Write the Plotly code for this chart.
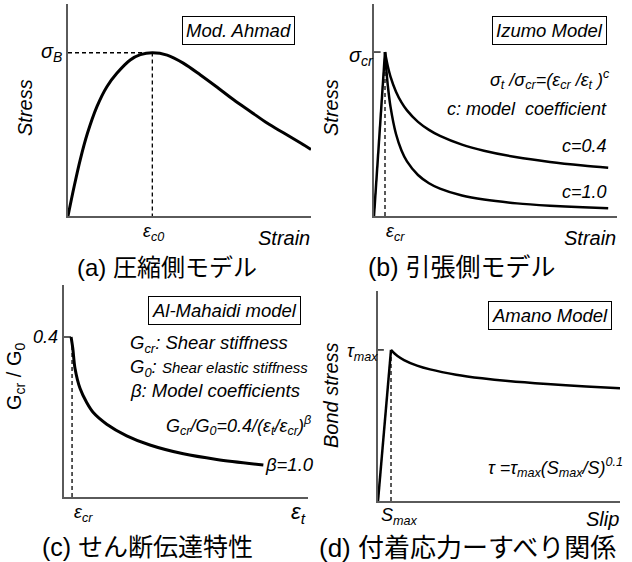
import plotly.graph_objects as go

W, H = 632, 562

# ---------------- data ----------------
# (a) Mod. Ahmad compression model (arbitrary units 0-100)
A_STRAIN = [0, 2.5, 5.0, 8.0, 11.9, 16.0, 20.1, 25.6, 29.8, 34.7, 40.8, 47.6, 54.5,
            61.4, 68.3, 75.2, 82.1, 89.0, 95.9, 100]
A_STRESS = [0, 13.8, 26.4, 39.0, 51.6, 61.0, 67.3, 73.6, 76.1, 77.0, 75.9, 72.0, 66.5,
            60.7, 54.7, 49.2, 43.7, 39.0, 34.3, 31.4]
A_PEAK = (34.7, 77.0)

# (b) Izumo tension model (strain / eps_cr, stress / sigma_cr)
B_RISE_X = [0, 1]
B_RISE_Y = [0, 1]
B_STRAIN = [1, 1.1, 1.25, 1.5, 2, 2.5, 3, 4, 5, 6, 8, 10, 13, 16, 19, 21.3]
B_C04 = [1, 0.963, 0.915, 0.850, 0.758, 0.693, 0.644, 0.574, 0.525, 0.488, 0.435,
         0.398, 0.358, 0.330, 0.308, 0.294]
B_C10 = [1, 0.909, 0.800, 0.667, 0.500, 0.400, 0.333, 0.250, 0.200, 0.167, 0.125,
         0.100, 0.077, 0.063, 0.053, 0.047]

# (c) Al-Mahaidi shear transfer model
C_STRAIN = [2.9, 3.6, 4.5, 6.6, 9.3, 12.0, 17.5, 25.7, 35.2, 48.9, 62.6, 81.7]
C_RATIO = [0.40, 0.372, 0.322, 0.271, 0.236, 0.211, 0.182, 0.153, 0.130, 0.108,
           0.094, 0.080]
C_EPS_CR = 3.3

# (d) Amano bond model (slip / S_max, bond stress / tau_max)
D_RISE_X = [0, 1]
D_RISE_Y = [0, 1]
D_SLIP = [1, 1.25, 1.5, 2, 3, 4, 6, 8, 10, 13, 16, 18.6]
D_BOND = [1, 0.978, 0.960, 0.933, 0.896, 0.871, 0.836, 0.812, 0.794, 0.774, 0.758, 0.747]

# ---------------- layout helpers ----------------
FONT = "Liberation Sans, Arial, sans-serif"
CJK = "Liberation Sans, Noto Sans CJK JP, sans-serif"
AXC = "#5a5a5a"


def fx(p):
    return p / W


def fy(p):
    return 1 - p / H


# panel pixel rectangles: left, right, top, bottom
PANELS = {
    "": (68, 311, 4, 216, [0, 100], [0, 100]),
    "2": (374, 617, 4, 216, [0, 22.1], [0, 1.293]),
    "3": (64, 308, 285, 497, [0, 100], [0, 0.53]),
    "4": (378, 620, 291, 501, [0, 18.6], [0, 1.39]),
}

fig = go.Figure()
layout = dict(width=W, height=H, margin=dict(l=0, r=0, t=0, b=0),
              paper_bgcolor="white", plot_bgcolor="white", showlegend=False)
for k, (l, r, t, b, xr, yr) in PANELS.items():
    layout["xaxis" + k] = dict(domain=[fx(l), fx(r)], range=xr, showline=True,
                               linecolor=AXC, linewidth=2, showgrid=False,
                               zeroline=False, showticklabels=False, ticks="",
                               anchor="y" + k, fixedrange=True)
    layout["yaxis" + k] = dict(domain=[fy(b), fy(t)], range=yr, showline=True,
                               linecolor=AXC, linewidth=2, showgrid=False,
                               zeroline=False, showticklabels=False, ticks="",
                               anchor="x" + k, fixedrange=True)
fig.update_layout(**layout)


def line(x, y, k, width=3, dash=None, shape="spline", color="black"):
    fig.add_trace(go.Scatter(x=x, y=y, xaxis="x" + k, yaxis="y" + k, mode="lines",
                             line=dict(color=color, width=width, dash=dash,
                                       shape=shape, smoothing=0.9 if shape == "spline" else None),
                             hoverinfo="skip"))


DASH = "4px,3px"
# (a)
line([0, A_PEAK[0], A_PEAK[0]], [A_PEAK[1], A_PEAK[1], 0], "", width=1.3, dash=DASH, shape="linear")
line(A_STRAIN, A_STRESS, "", width=3)
# (b)
line([1, 1], [0, 1], "2", width=1.3, dash=DASH, shape="linear")
line([0, 0.6], [1, 1], "2", width=1.3, shape="linear")
line(B_RISE_X, B_RISE_Y, "2", width=2.5, shape="linear")
line(B_STRAIN, B_C04, "2", width=2.5)
line(B_STRAIN, B_C10, "2", width=2.5)
# (c)
line([C_EPS_CR, C_EPS_CR], [0, C_RATIO[0]], "3", width=1.3, dash=DASH, shape="linear")
line([0, C_STRAIN[0]], [C_RATIO[0], C_RATIO[0]], "3", width=1.3, shape="linear")
line(C_STRAIN, C_RATIO, "3", width=3)
# (d)
line([1, 1], [0, 1], "4", width=1.3, dash=DASH, shape="linear")
line([0, 0.45], [1, 1], "4", width=1.3, shape="linear")
line(D_RISE_X, D_RISE_Y, "4", width=2.5, shape="linear")
line(D_SLIP, D_BOND, "4", width=2.5)

ann = []


def text(s, x, y, size=18, xa="center", ya="middle", italic=True, angle=0,
         family=FONT, box=False):
    d = dict(text=s, x=fx(x), y=fy(y), xref="paper", yref="paper",
             xanchor=xa, yanchor=ya, showarrow=False, textangle=angle,
             font=dict(family=family, size=size, color="black",
                       style="italic" if italic else "normal"))
    if box:
        d.update(bordercolor="black", borderwidth=1, borderpad=3, bgcolor="white")
    ann.append(d)


# (a)
text("Stress", 25, 108, size=20, angle=-90)
text("Strain", 312, 238, size=20, xa="right")
text("σ<sub>B</sub>", 51, 52, size=20)
text("ε<sub>c0</sub>", 153, 232, size=18)
text("Mod. Ahmad", 238.5, 31, size=18.5, box=True)
text("(a) 圧縮側モデル", 167, 267, size=24, italic=False, family=CJK)
# (b)
text("Stress", 331, 108, size=20, angle=-90)
text("Strain", 618, 238, size=20, xa="right")
text("σ<sub>cr</sub>", 361, 57, size=20)
text("ε<sub>cr</sub>", 395, 232, size=18)
text("Izumo Model", 549.5, 30, size=18.5, box=True)
text("σ<sub>t</sub> /σ<sub>cr</sub>=(ε<sub>cr</sub> /ε<sub>t</sub> )<sup>c</sup>", 612, 80,
     size=18, xa="right")
text("c: model&nbsp; coefficient", 609, 109, size=18, xa="right")
text("c=0.4", 609, 146, size=18, xa="right")
text("c=1.0", 609, 192, size=18, xa="right")
text("(b) 引張側モデル", 462, 267, size=25, italic=False, family=CJK)
# (c)
text("G<sub>cr</sub> / G<sub>0</sub>", 15, 377, size=20, angle=-90, italic=False)
text("0.4", 60, 337, size=18, xa="right")
text("ε<sub>cr</sub>", 84, 513, size=18)
text("ε<sub>t</sub>", 298, 513, size=22)
text("Al-Mahaidi model", 224.5, 310.5, size=18.5, box=True)
text("G<sub>cr</sub>: Shear stiffness", 128, 344, size=18.5, xa="left")
text("G<sub>0</sub>: <span style='font-size:15px'>Shear elastic stiffness</span>", 128, 368,
     size=18.5, xa="left")
text("β: Model coefficients", 128, 390, size=18.5, xa="left")
text("G<sub>cr</sub>/G<sub>0</sub>=0.4/(ε<sub>t</sub>/ε<sub>cr</sub>)<sup>β</sup>", 313, 425,
     size=18, xa="right")
text("β=1.0", 263, 465, size=18.5, xa="left")
text("(c) せん断伝達特性", 147, 547, size=25, italic=False, family=CJK)
# (d)
text("Bond stress", 331, 395, size=20, angle=-90)
text("τ<sub>max</sub>", 362, 352, size=18)
text("S<sub>max</sub>", 399, 516, size=18)
text("Slip", 621, 519, size=20, xa="right")
text("Amano Model", 549.5, 315, size=18.5, box=True)
text("τ =τ<sub>max</sub>(S<sub>max</sub>/S)<sup>0.1</sup>", 625, 467, size=18, xa="right")
text("(d) 付着応力ーすべり関係", 467, 548, size=26, italic=False, family=CJK)

fig.update_layout(annotations=ann)
fig.write_html("out.html", config={"displayModeBar": False},
               post_script="document.body.style.margin='0';document.body.style.padding='0';"
                           "document.documentElement.style.overflow='hidden';")
